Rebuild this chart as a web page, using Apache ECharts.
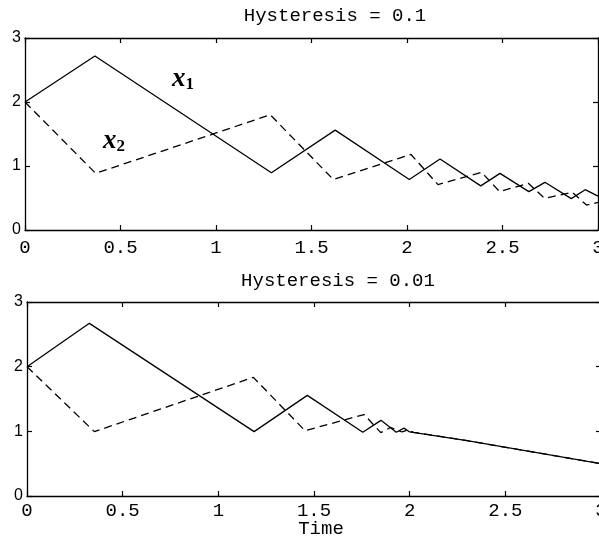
<!DOCTYPE html>
<html>
<head>
<meta charset="utf-8">
<script src="https://cdn.jsdelivr.net/npm/echarts@6/dist/echarts.min.js"></script>
<style>
  html, body { margin: 0; padding: 0; background: #fff; }
  #chart { width: 599px; height: 546px; }
</style>
</head>
<body>
<div id="chart"></div>
<script>
// time / value pairs
const x1Hyst01 = [[0, 2], [0.366, 2.72], [1.29, 0.895], [1.624, 1.56], [2.012, 0.79], [2.173, 1.11],
    [2.386, 0.69], [2.487, 0.885], [2.638, 0.6], [2.722, 0.745], [2.86, 0.49], [2.933, 0.63], [3, 0.53]];
const x2Hyst01 = [[0, 2], [0.37, 0.885], [1.284, 1.8], [1.614, 0.79], [2.021, 1.18], [2.162, 0.71],
    [2.391, 0.9], [2.485, 0.6], [2.635, 0.73], [2.72, 0.495], [2.865, 0.59], [2.94, 0.39], [3, 0.43]];
const x1Hyst001 = [[0, 2], [0.326, 2.67], [1.187, 0.995], [1.465, 1.556], [1.755, 0.985], [1.85, 1.17],
    [1.93, 0.985], [1.97, 1.05], [2.0, 0.99], [2.3, 0.855], [3, 0.5]];
const x2Hyst001 = [[0, 2], [0.352, 0.995], [1.183, 1.835], [1.453, 1.01], [1.762, 1.26], [1.849, 0.98],
    [1.9, 1.06], [1.96, 0.99], [1.99, 1.02], [2.02, 0.985], [2.3, 0.855], [3, 0.5]];
const titles = ['Hysteresis = 0.1', 'Hysteresis = 0.01'];
const xName = 'Time';

const mono = 'Liberation Mono';
const sans = 'Liberation Sans';

const chart = echarts.init(document.getElementById('chart'), null, {renderer: 'canvas'});

function xAx(grid, pos, margin) {
    const isBottom = pos === 'bottom';
    return {
        type: 'value', gridIndex: grid, position: pos, min: 0, max: 3, interval: 0.5,
        axisLine: {show: true, onZero: false, lineStyle: {color: '#000', width: 1.3}},
        axisTick: {show: true, inside: true, length: 5, lineStyle: {color: '#000', width: 1.2}},
        axisLabel: {show: isBottom, color: '#000', fontFamily: mono, fontSize: 19, margin: margin, showMaxLabel: true},
        splitLine: {show: false}
    };
}

function yAx(grid, pos) {
    const isLeft = pos === 'left';
    return {
        type: 'value', gridIndex: grid, position: pos, min: 0, max: 3, interval: 1,
        axisLine: {show: true, onZero: false, lineStyle: {color: '#000', width: 1.3}},
        axisTick: {show: true, inside: true, length: 5, lineStyle: {color: '#000', width: 1.2}},
        axisLabel: {show: isLeft, color: '#000', fontFamily: sans, fontSize: 16, margin: 4},
        splitLine: {show: false}
    };
}

function line(data, xi, yi, dashed) {
    return {
        type: 'line', data: data, xAxisIndex: xi, yAxisIndex: yi,
        showSymbol: false, symbol: 'none', animation: false,
        lineStyle: {color: '#000', width: 1.3, type: dashed ? [8, 5] : 'solid'}
    };
}

function label(sub, x, y) {
    return {
        type: 'text', x: x, y: y,
        style: {
            text: '{a|x}{b|' + sub + '}',
            align: 'center', verticalAlign: 'middle',
            rich: {
                a: {fontFamily: 'Liberation Serif', fontStyle: 'italic', fontWeight: 'bold', fontSize: 27, fill: '#000'},
                b: {fontFamily: 'Liberation Serif', fontWeight: 'bold', fontSize: 17, fill: '#000', padding: [12, 0, 0, 0]}
            }
        }
    };
}

function text(str, x, y) {
    return {
        type: 'text', x: x, y: y,
        style: {text: str, font: '19px "' + mono + '"', fill: '#000', align: 'center', verticalAlign: 'middle'}
    };
}

chart.setOption({
    animation: false,
    grid: [
        {left: 25, top: 38, width: 573, height: 192, outerBoundsMode: 'none', containLabel: false},
        {left: 27, top: 302, width: 574, height: 194, outerBoundsMode: 'none', containLabel: false}
    ],
    xAxis: [xAx(0, 'bottom', 8), xAx(0, 'top', 8), xAx(1, 'bottom', 5), xAx(1, 'top', 5)],
    yAxis: [yAx(0, 'left'), yAx(0, 'right'), yAx(1, 'left'), yAx(1, 'right')],
    series: [
        line(x1Hyst01, 0, 0, false),
        line(x2Hyst01, 0, 0, true),
        line(x1Hyst001, 2, 2, false),
        line(x2Hyst001, 2, 2, true)
    ],
    graphic: [
        text(titles[0], 335, 16),
        text(titles[1], 338, 281),
        text(xName, 321, 529),
        label('1', 183, 79),
        label('2', 114, 141)
    ]
});
</script>
</body>
</html>
